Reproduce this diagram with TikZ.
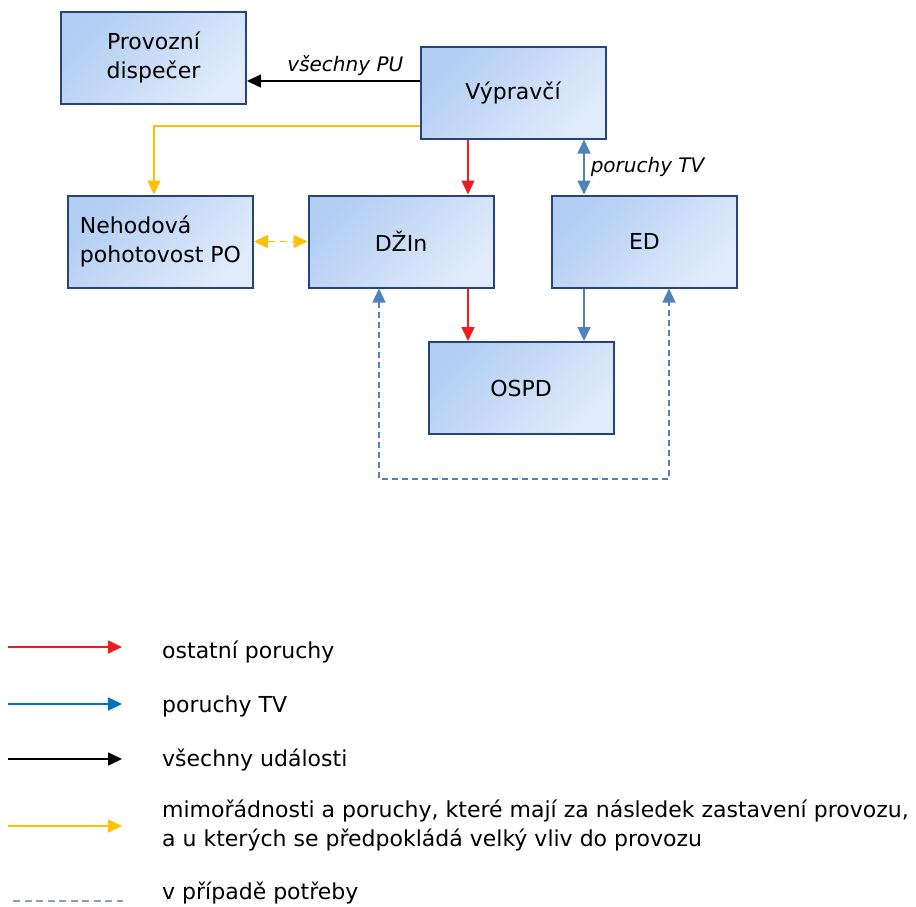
\documentclass[tikz,border=0pt]{standalone}
\usepackage{fontspec}
\setmainfont{DejaVu Sans}
\usepackage{tikz}
\usetikzlibrary{arrows.meta,positioning}
\definecolor{boxline}{RGB}{38,68,122}
\definecolor{boxdark}{RGB}{178,205,243}
\definecolor{boxlight}{RGB}{224,235,251}
\definecolor{flowred}{RGB}{238,28,28}
\definecolor{flowblue}{RGB}{79,129,189}
\definecolor{legblue}{RGB}{0,112,192}
\definecolor{flowyellow}{RGB}{255,192,0}
\definecolor{leggray}{RGB}{150,160,172}

\begin{document}
\begin{tikzpicture}[x=1pt, y=-1pt, font=\fontsize{22}{29}\selectfont, box/.style={draw=boxline, line width=2pt, top color=boxdark, bottom color=boxlight, shading angle=45, minimum width=185pt, minimum height=92pt, inner sep=0pt, align=center}, arr/.style={-{Triangle[length=14pt,width=13pt]}, line width=1.5pt}, both/.style={{Triangle[length=14pt,width=13pt]}-{Triangle[length=14pt,width=13pt]}}, lbl/.style={font=\fontsize{20}{24}\selectfont\itshape, text=black, inner sep=2pt}, legtxt/.style={anchor=base west, inner sep=0pt, align=left}]
\useasboundingbox (0,0) rectangle (916,906);
\node[box] (prov) at (153.5,57.5) {Provozní\\dispečer};
\node[box] (vyp) at (513,92.5) {Výpravčí};
\node[box, align=left] (neh) at (160.5,241.5) {Nehodová\\pohotovost PO};
\node[box] (dzin) at (401,241.5) {DŽIn};
\node[box] (ed) at (644.5,241.5) {ED};
\node[box] (ospd) at (521,388) {OSPD};
% helper points on the box edges
\coordinate (pu) at ([yshift=11.5pt]vyp.west);
\coordinate (po) at ([yshift=-33.5pt]vyp.west);
\coordinate (r1) at ([xshift=-45pt]vyp.south);
\coordinate (b1) at ([xshift=71pt]vyp.south);
\coordinate (r2) at ([xshift=67pt]dzin.south);
\coordinate (b2) at ([xshift=-60.5pt]ed.south);
\coordinate (d1) at ([xshift=-22pt]dzin.south);
\coordinate (d2) at ([xshift=24.5pt]ed.south);
\coordinate (loop) at (521,479);
\draw[arr, black] (pu) -- node[lbl, above=3pt, pos=.43] (pulbl) {všechny PU} (pu -| prov.east);
\draw[arr, flowyellow] (po) -| ([xshift=-6.5pt]neh.north);
\draw[arr, flowred] (r1) -- (r1 |- dzin.north);
\draw[arr, both, flowblue] (b1) -- node[lbl, right=4pt] (tvlbl) {poruchy TV} (b1 |- ed.north);
\draw[arr, both, flowyellow, line width=1.6pt, dash pattern=on 7pt off 5pt] (neh.east) -- (dzin.west);
\draw[arr, flowred] (r2) -- (r2 |- ospd.north);
\draw[arr, flowblue] (b2) -- (b2 |- ospd.north);
\draw[arr, both, flowblue, line width=1.3pt, dash pattern=on 6pt off 4pt] (d1) -- (d1 |- loop) -| (d2);
% legend
\coordinate (l1) at (8,647);
\coordinate (l2) at (8,704);
\coordinate (l3) at (8,759);
\coordinate (l4) at (8,826);
\coordinate (l5) at (13,901);
\node[legtxt] (t1) at (162,658) {ostatní poruchy};
\node[legtxt] (t2) at (162,712) {poruchy TV};
\node[legtxt] (t3) at (162,766) {všechny události};
\node[inner sep=0pt, align=left, anchor=west] (t4) at (162,825) {mimořádnosti a poruchy, které mají za následek zastavení provozu,\\a u kterých se předpokládá velký vliv do provozu};
\node[legtxt] (t5) at (162,899) {v případě potřeby};
\draw[arr, flowred, line width=1.7pt] (l1) -- ++(114,0);
\draw[arr, legblue, line width=1.7pt] (l2) -- ++(114,0);
\draw[arr, black, line width=1.7pt] (l3) -- ++(114,0);
\draw[arr, flowyellow, line width=1.7pt] (l4) -- ++(114,0);
\draw[leggray, line width=1.3pt, dash pattern=on 7pt off 4.5pt] (l5) -- ++(110,0);
\end{tikzpicture}
\end{document}
